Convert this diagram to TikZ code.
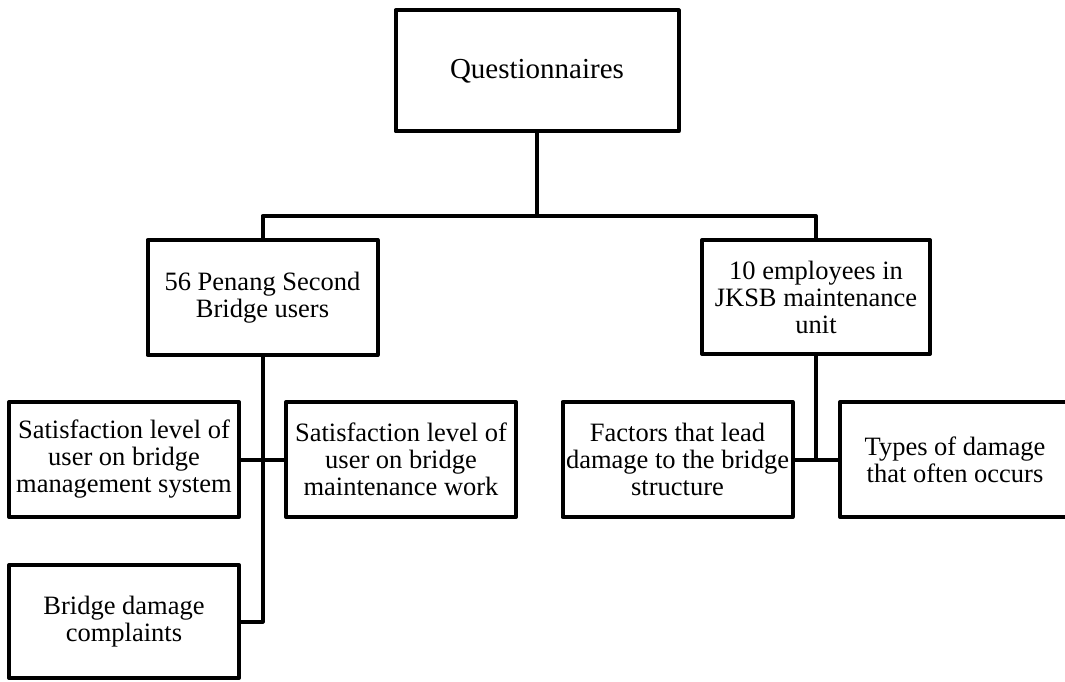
\documentclass[tikz,border=0pt]{standalone}
\usepackage{fontspec}
\setmainfont{Liberation Serif}
\begin{document}
\begin{tikzpicture}[x=1pt,y=-1pt,
	box/.style={draw, line width=4pt, line join=round, align=center, inner sep=0pt,
		font=\fontsize{26.5}{27}\selectfont, minimum width=230pt, minimum height=115pt},
	link/.style={line width=4pt, line join=round}]
	
	\useasboundingbox (0,0) rectangle (1065,682);
	
	% top
	\node[box, minimum width=283pt, minimum height=121pt, font=\fontsize{29}{30}\selectfont] (quest) at (537,71) {Questionnaires};
	
	% second row
	\node[box] (users) at (262.5,297.5) {56 Penang Second\\Bridge users};
	\node[box, minimum width=228pt, minimum height=114pt] (staff) at (816,297) {10 employees in\\JKSB maintenance\\unit};
	
	% third row
	\node[box] (satMgmt) at (124,459.5) {Satisfaction level of\\user on bridge\\management system};
	\node[box] (satWork) at (401,459.5) {Satisfaction level of\\user on bridge\\maintenance work};
	\node[box] (factors) at (677.5,459.5) {Factors that lead\\damage to the bridge\\structure};
	\node[box] (types) at (955,459.5) {Types of damage\\that often occurs};
	
	% bottom
	\node[box, minimum height=113pt] (complaints) at (124,621.5) {Bridge damage\\complaints};
	
	
	\coordinate (bus) at (quest.south |- 0,216);
	\draw[link] (quest.south) -- (bus);
	\draw[link] (users.north) |- (bus) -| (staff.north);
	
	\draw[link] (users.south) |- (complaints.east);
	\draw[link] (satMgmt.east) -- (satWork.west);
	
	\draw[link] (staff.south) -- (staff.south |- factors.east);
	\draw[link] (factors.east) -- (types.west);
	
\end{tikzpicture}
\end{document}
